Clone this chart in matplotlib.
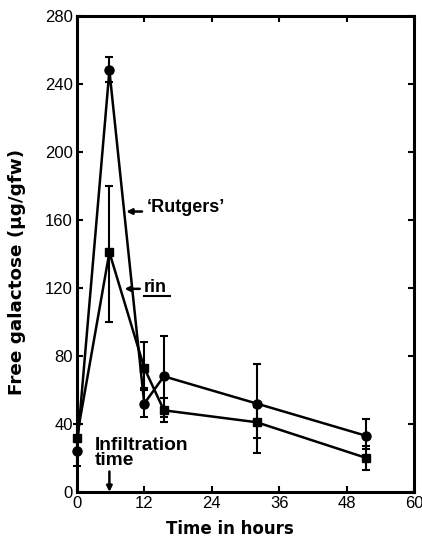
import numpy as np
import matplotlib
matplotlib.use("Agg")
import matplotlib.pyplot as plt

plt.rcParams['font.family'] = ['Liberation Sans', 'DejaVu Sans']

# time points (hours)
hours = [0, 5.8, 12, 15.5, 32, 51.5]

# 'Rutgers' (circles)
rutgers = [24, 248, 52, 68, 52, 33]
rutgers_low = [15, 241, 44, 44, 23, 25]
rutgers_high = [33, 256, 61, 92, 75, 43]

# rin (squares)
rin = [32, 141, 73, 48, 41, 20]
rin_low = [24, 100, 60, 41, 32, 13]
rin_high = [40, 180, 88, 55, 50, 27]

x_ticks = [0, 12, 24, 36, 48, 60]
y_ticks = [0, 40, 80, 120, 160, 200, 240, 280]

fig = plt.figure(figsize=(4.22, 5.37), dpi=100)
ax = fig.add_axes([0.182, 0.084, 0.799, 0.886])

def plot_series(y, low, high, marker, ms):
    y = np.array(y)
    yerr = [y - np.array(low), np.array(high) - y]
    cont = ax.errorbar(hours, y, yerr=yerr, fmt='-', marker=marker,
                       color='black', ms=ms, lw=1.8, elinewidth=1.5,
                       capsize=3, capthick=1.5)
    for art in cont.get_children():
        art.set_clip_on(False)

plot_series(rutgers, rutgers_low, rutgers_high, 'o', 6.5)
plot_series(rin, rin_low, rin_high, 's', 6)

ax.set_xlim(0, 60)
ax.set_ylim(0, 280)
ax.set_xticks(x_ticks)
ax.set_yticks(y_ticks)
ax.tick_params(direction='in', length=4, width=1.5, top=True, right=True,
               labelsize=12, pad=3)
for s in ax.spines.values():
    s.set_linewidth(2.2)

ax.set_xlabel('Time in hours', fontsize=12, fontweight='bold',
              family='DejaVu Sans', va='baseline')
ax.xaxis.set_label_coords(0.4525, -0.088)
ax.set_ylabel('Free galactose (μg/gfw)', fontsize=13.2, fontweight='bold',
              family='DejaVu Sans')
ax.yaxis.set_label_coords(-0.152, 0.462)

# annotations
ax.text(12.4, 167.5, '‘Rutgers’', fontsize=13, fontweight='bold',
        va='center', ha='left')
ax.annotate('', xy=(8.8, 165), xytext=(11.6, 165),
            arrowprops=dict(arrowstyle='-|>', color='black', lw=1.8,
                            mutation_scale=8, shrinkA=0, shrinkB=0))
ax.text(12.0, 120, 'rin', fontsize=13, fontweight='bold',
        va='center', ha='left')
ax.plot([12.0, 16.6], [115, 115], color='black', lw=1.5)
ax.annotate('', xy=(8.5, 119.5), xytext=(11.2, 119.5),
            arrowprops=dict(arrowstyle='-|>', color='black', lw=1.8,
                            mutation_scale=8, shrinkA=0, shrinkB=0))

ax.text(3.2, 32.5, 'Infiltration\ntime', fontsize=13.8, fontweight='bold',
        va='top', ha='left', linespacing=0.85)
ax.annotate('', xy=(5.8, 0), xytext=(5.8, 12),
            arrowprops=dict(arrowstyle='-|>', color='black', lw=1.8,
                            mutation_scale=8, shrinkA=0, shrinkB=0))

fig.savefig('out.png', dpi=100)
